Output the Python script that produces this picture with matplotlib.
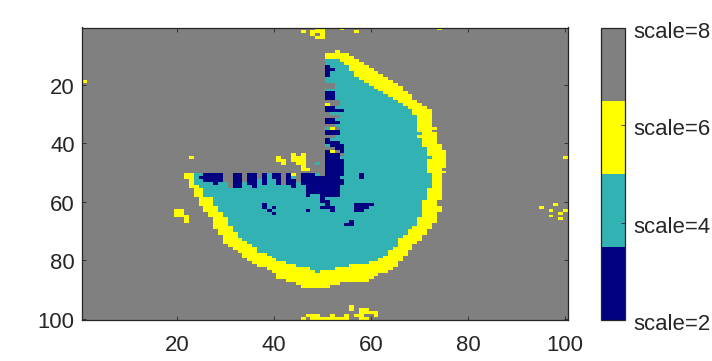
import numpy as np
import matplotlib
matplotlib.use("Agg")
import matplotlib.pyplot as plt
from matplotlib.colors import ListedColormap
from matplotlib.transforms import ScaledTranslation

plt.rcParams['font.family'] = ['Liberation Sans', 'DejaVu Sans']

# values of the map (row, first col, last col), 1-indexed; default is scale 8
GRAY, YELLOW, TEAL, NAVY = 8, 6, 4, 2
scale_ticks = [2, 4, 6, 8]
scale_labels = ['scale=2', 'scale=4', 'scale=6', 'scale=8']
x_ticks = [20, 40, 60, 80, 100]
y_ticks = [20, 40, 60, 80, 100]
palette = ['#000080', '#32B2B2', '#FFFF00', '#808080']

# rows: (row, yellow start, teal start, teal end, yellow end)
wedge_rows = [
 (12,51,51,53,57),(13,51,51,54,58),(14,51,51,55,59),(15,51,51,55,60),(16,51,51,56,61),
 (17,51,51,56,62),(18,51,51,57,63),(19,51,51,58,64),(20,51,51,59,65),(21,51,51,60,66),
 (22,51,51,61,66),(23,51,51,62,67),(24,51,51,63,68),(25,51,51,64,68),(26,51,51,65,69),
 (27,51,51,66,70),(28,51,51,67,71),(29,51,51,68,72),(30,51,51,68,72),(31,51,51,69,72),
 (32,51,51,69,72),(33,51,51,69,72),(34,51,51,69,72),(35,51,51,69,73),(36,51,51,69,72),
 (37,51,51,70,73),(38,51,51,69,73),(39,51,51,70,73),(40,51,51,70,73),(41,51,51,70,74),
 (42,51,51,71,74),(43,51,51,71,75),(44,51,51,71,75),(45,51,51,72,75),(46,51,51,71,75),
 (47,51,51,71,75),(48,51,51,71,75),(49,51,51,71,74),(50,51,51,71,75),
 (51,22,24,72,74),(52,22,24,72,74),(53,23,24,72,74),(54,23,24,72,74),(55,23,25,72,74),
 (56,24,26,71,74),(57,24,26,71,74),(58,24,26,71,74),(59,25,28,71,74),(60,25,28,70,73),
 (61,25,28,70,73),(62,26,29,70,74),(63,26,29,70,74),(64,27,30,70,73),(65,27,30,70,73),
 (66,28,31,69,73),(67,28,31,69,73),(68,28,31,69,72),(69,28,32,68,72),(70,29,32,67,71),
 (71,29,33,67,71),(72,30,33,66,70),(73,30,34,65,70),(74,30,35,65,69),(75,31,36,65,68),
 (76,32,37,64,68),(77,33,37,63,67),(78,34,39,63,67),(79,34,40,62,66),(80,35,41,61,66),
 (81,36,43,59,65),(82,37,45,55,65),(83,39,48,52,64),(84,40,49,49,63),
]

yellow_runs = [
 (1,49,50),(1,54,54),(1,74,74),(2,46,46),(2,48,50),(2,57,57),(3,48,48),(3,50,50),(4,49,50),
 (9,53,53),(10,51,55),(11,51,56),(19,1,1),
 (45,23,23),(45,41,41),(46,41,42),(47,42,42),(44,44,44),(45,44,45),(46,44,45),(47,45,45),
 (44,46,46),(45,46,46),(46,46,46),(47,46,46),(48,46,46),(49,46,47),(45,100,100),
 (63,20,21),(64,20,21),(65,20,22),(66,22,22),(67,22,22),
 (61,98,98),(62,95,95),(63,97,97),(63,100,100),(64,99,99),(65,97,97),(66,99,99),
 (85,41,61),(86,41,60),(87,43,59),(88,45,53),(89,46,51),
 (96,56,56),(97,56,56),(97,58,59),(98,58,61),(99,47,49),(99,52,52),(99,55,55),(99,57,58),(99,61,61),
 (100,46,46),(100,48,55),(100,58,59),
]

teal_runs = [(47,49,49),(51,49,49),(52,44,44)]

gray_runs = [
 (20,51,52),(21,51,52),(26,51,53),(27,52,53),(30,51,51),(31,51,53),(34,51,52),(35,53,53),
 (38,51,52),(42,51,52),(43,53,53),(44,54,54),
 (51,30,31),(51,34,34),(51,37,37),(51,42,42),(51,45,45),(51,50,50),
 (52,30,31),(52,34,34),(52,37,37),(52,42,42),(52,45,45),
 (53,30,31),(53,34,34),(53,42,42),(53,45,45),
 (54,31,31),(54,42,42),(55,31,31),
]

navy_runs = [
 (14,51,51),(15,51,52),(16,51,51),(17,51,51),(23,51,52),(24,51,52),(25,51,52),(28,51,52),(29,51,54),
 (32,51,52),(33,51,53),(36,51,53),(37,51,53),(39,51,51),(40,51,53),(41,52,54),(42,53,54),(43,51,51),(43,54,54),
 (44,51,53),(45,51,53),(46,51,54),(47,51,54),(48,51,54),(49,51,54),(50,51,54),(51,51,54),
 (51,26,29),(51,32,33),(51,35,36),(51,38,38),(51,40,41),(51,43,43),(51,46,48),(51,58,58),
 (52,25,29),(52,32,33),(52,35,36),(52,38,38),(52,40,41),(52,43,43),(52,46,53),(52,58,58),
 (53,26,29),(53,32,33),(53,35,36),(53,38,38),(53,41,41),(53,43,44),(53,46,54),
 (54,28,28),(54,32,33),(54,35,36),(54,38,38),(54,41,41),(54,43,44),(54,46,54),
 (55,32,33),(55,36,36),(55,44,44),(55,47,53),
 (56,47,53),(57,47,53),(58,47,47),(58,50,53),(59,50,50),(60,50,51),
 (61,38,38),(61,51,51),(61,57,60),(62,38,38),(62,40,40),(62,50,52),(62,57,59),
 (63,39,39),(63,47,47),(63,52,52),(63,57,58),(64,40,40),(67,56,56),(68,55,56),
]

# single yellow cells sitting on top of the gaps along the wedge's straight edge
yellow_spots = [(27,51,51),(35,52,52),(43,52,52),(51,44,44)]

grid = np.full((100, 100), GRAY)
for row, ys, ts, te, ye in wedge_rows:
    grid[row - 1, ys - 1:ye] = YELLOW
    grid[row - 1, ts - 1:te] = TEAL
for runs, val in ((yellow_runs, YELLOW), (teal_runs, TEAL), (gray_runs, GRAY),
                  (navy_runs, NAVY), (yellow_spots, YELLOW)):
    for row, a, b in runs:
        grid[row - 1, a - 1:b] = val

W, H = 712, 361
fig = plt.figure(figsize=(W / 100, H / 100), dpi=100)
ax = fig.add_axes([82.3 / W, 1 - 320.3 / H, 485.2 / W, 292.8 / H])
cax = fig.add_axes([600.7 / W, 1 - 320.3 / H, 24.6 / W, 292.8 / H])
cmap = ListedColormap(palette)

im = ax.imshow(grid, cmap=cmap, vmin=2, vmax=8, aspect='auto',
               extent=(0.5, 100.5, 100.5, 0.5), interpolation='nearest')
ax.set_xticks(x_ticks)
ax.set_yticks(y_ticks)
ax.tick_params(direction='in', length=3.2, width=0.6, color='#262626',
               labelsize=15.9, labelcolor='#262626', top=True, right=True)
ax.tick_params(axis='x', pad=10.5)
ax.tick_params(axis='y', pad=5.5)
down_1px = ScaledTranslation(0, -1 / 100, fig.dpi_scale_trans)
for lab in ax.get_yticklabels():
    lab.set_transform(lab.get_transform() + down_1px)
for s in ax.spines.values():
    s.set_linewidth(0.9)
    s.set_color('#262626')

cb = fig.colorbar(im, cax=cax)
cb.set_ticks(scale_ticks)
cb.set_ticklabels(scale_labels)
cax.tick_params(direction='in', length=3, width=0.6, color='#262626', right=True,
                labelsize=15.9, labelcolor='#262626', pad=6)
down_2px = ScaledTranslation(0, -2 / 100, fig.dpi_scale_trans)
for lab in cax.get_yticklabels():
    lab.set_transform(lab.get_transform() + down_2px)
cb.outline.set_linewidth(0.9)
cb.outline.set_edgecolor('#262626')

fig.savefig('out.png', dpi=100)
